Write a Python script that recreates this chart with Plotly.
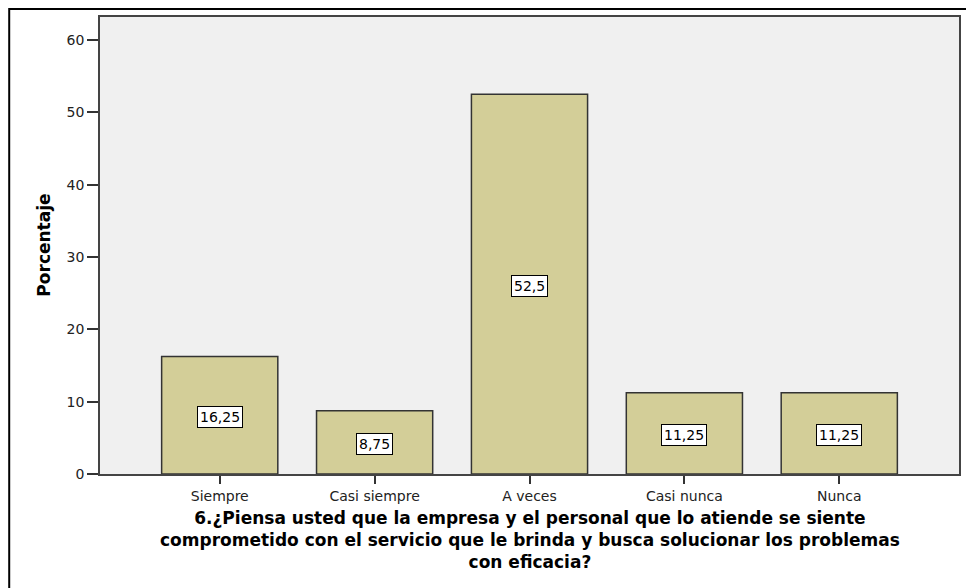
import plotly.graph_objects as go

categories = ["Siempre", "Casi siempre", "A veces", "Casi nunca", "Nunca"]
percentages = [16.25, 8.75, 52.5, 11.25, 11.25]
y_ticks = [0, 10, 20, 30, 40, 50, 60]
x_title_lines = [
    "6.¿Piensa usted que la empresa y el personal que lo atiende se siente",
    "comprometido con el servicio que le brinda y busca solucionar los problemas",
    "con eficacia?",
]
y_title = "Porcentaje"

W, H = 966, 588
ML, MR, MT, MB = 100, 5, 17, 114
PW, PH = W - ML - MR, H - MT - MB
FONT = "DejaVu Sans, Verdana, sans-serif"

fig = go.Figure()
fig.add_trace(go.Bar(
    x=list(range(len(categories))),
    y=percentages,
    width=0.75,
    marker=dict(color="#D3CE98", line=dict(color="#333333", width=1.5)),
    hoverinfo="skip",
))

annotations = []
for i, v in enumerate(percentages):
    annotations.append(dict(
        x=i, y=v / 2, xref="x", yref="y", yshift=-2,
        text=f"{v:g}".replace(".", ","),
        showarrow=False,
        bgcolor="white", bordercolor="black", borderwidth=1, borderpad=2,
        font=dict(family=FONT, size=14, color="black"),
    ))

# x-axis title as one multi-line annotation
annotations.append(dict(
    x=0.5, xref="paper", y=1 - (540 - MT) / PH, yref="paper",
    text="<br>".join(f"<b>{t}</b>" for t in x_title_lines),
    showarrow=False, align="center",
    xanchor="center", yanchor="middle",
    font=dict(family=FONT, size=17, color="black"),
))

annotations.append(dict(
    x=(43 - ML) / PW, xref="paper", y=0.5, yref="paper",
    text=f"<b>{y_title}</b>", showarrow=False, textangle=-90,
    xanchor="center", yanchor="middle",
    font=dict(family=FONT, size=17, color="black"),
))

# outer frame (cropped at right and bottom in the reference)
shapes = [dict(
    type="rect", xref="paper", yref="paper",
    x0=(9 - ML) / PW, x1=1.03, y0=-0.4, y1=1 + (MT - 9) / PH,
    line=dict(color="black", width=2), fillcolor="rgba(0,0,0,0)", layer="below",
)]

fig.update_layout(
    width=W, height=H,
    margin=dict(l=ML, r=MR, t=MT, b=MB, pad=0),
    paper_bgcolor="white",
    plot_bgcolor="#F0F0F0",
    showlegend=False,
    annotations=annotations,
    shapes=shapes,
    xaxis=dict(
        range=[-0.773, len(categories) - 1 + 0.773],
        tickmode="array",
        tickvals=list(range(len(categories))),
        ticktext=categories,
        ticks="outside", ticklen=8, tickwidth=1.5, tickcolor="#333333",
        showline=True, linecolor="#444444", linewidth=1.5, mirror=True,
        showgrid=False, zeroline=False,
        tickfont=dict(family=FONT, size=14, color="#222222"),
    ),
    yaxis=dict(
        range=[0, 63.18],
        tickmode="array", tickvals=y_ticks,
        ticks="outside", ticklen=11, tickwidth=1.5, tickcolor="#333333",
        showline=True, linecolor="#444444", linewidth=1.5, mirror=True,
        showgrid=False, zeroline=False,
        tickfont=dict(family=FONT, size=14, color="#222222"),
    ),
)

fig.write_html("out.html")
